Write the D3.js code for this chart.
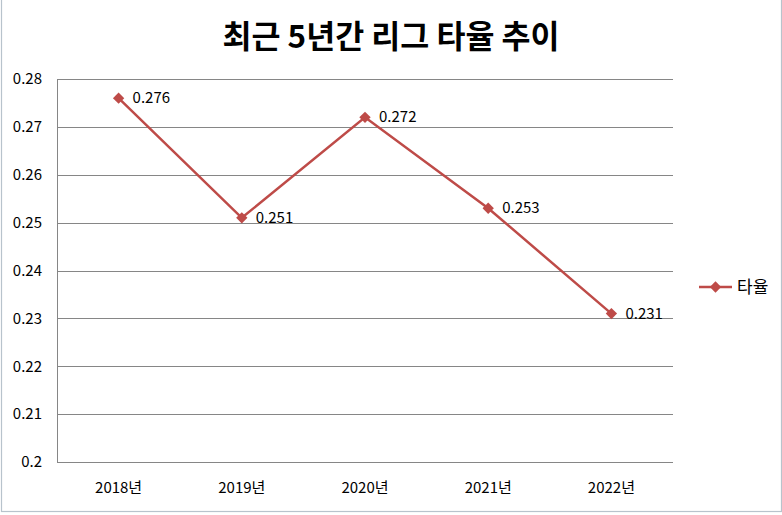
<!DOCTYPE html>
<html><head><meta charset="utf-8">
<script src="https://cdn.jsdelivr.net/npm/d3@7"></script>
<style>body{margin:0;background:#fff;}svg{display:block;font-family:"Noto Sans CJK KR","Noto Sans",sans-serif;}</style>
</head><body>
<script>
const title = "최근 5년간 리그 타율 추이";
const categories = ["2018년","2019년","2020년","2021년","2022년"];
const values = [0.276, 0.251, 0.272, 0.253, 0.231];
const seriesName = "타율";
const yTicks = [0.2,0.21,0.22,0.23,0.24,0.25,0.26,0.27,0.28];

const W=782,H=515;
const svg=d3.select("body").append("svg").attr("width",W).attr("height",H);
svg.append("rect").attr("x",1.5).attr("y",-2).attr("width",W-2).attr("height",H-1.5)
  .attr("fill","#fff").attr("stroke","#b8c3cc").attr("stroke-width",1.2);

const L=57,R=673,T=79,B=462;
const x=d3.scaleBand().domain(categories).range([L,R]);
const y=d3.scaleLinear().domain([0.2,0.28]).range([B,T]);
const color="#BE4B48";

svg.append("text").attr("x",391).attr("y",48).attr("text-anchor","middle")
  .attr("font-size",31.5).attr("font-weight","bold").attr("fill","#000").text(title);

// gridlines
svg.append("g").selectAll("line").data(yTicks).join("line")
  .attr("x1",L).attr("x2",R).attr("y1",d=>Math.round(y(d))+0.5).attr("y2",d=>Math.round(y(d))+0.5)
  .attr("stroke","#868686").attr("stroke-width",1);
svg.append("line").attr("x1",L+0.5).attr("x2",L+0.5).attr("y1",T).attr("y2",B+0.5)
  .attr("stroke","#868686");

// y axis labels
const yAxis=d3.axisLeft(y).tickValues(yTicks).tickSize(0).tickPadding(15).tickFormat(d=>String(+d.toFixed(2)));
const ya=svg.append("g").attr("transform",`translate(${L},0)`).call(yAxis);
ya.select(".domain").remove();
ya.selectAll("text").attr("font-size",15).attr("fill","#000").attr("font-family","Noto Sans CJK KR");

const xAxis=d3.axisBottom(x).tickSize(0).tickPadding(20);
const xa=svg.append("g").attr("transform",`translate(0,${B})`).call(xAxis);
xa.select(".domain").remove();
xa.selectAll("text").attr("font-size",15).attr("fill","#000").attr("font-family","Noto Sans CJK KR");

const cx=d=>x(d)+x.bandwidth()/2;
const line=d3.line().x((d,i)=>cx(categories[i])).y(d=>y(d));
svg.append("path").datum(values).attr("d",line).attr("fill","none").attr("stroke",color).attr("stroke-width",2.5);

const diamond=d3.symbol().type(d3.symbolSquare).size(64);
svg.append("g").selectAll("path").data(values).join("path")
  .attr("d",diamond).attr("transform",(d,i)=>`translate(${cx(categories[i])},${y(d)}) rotate(45)`).attr("fill",color);

svg.append("g").selectAll("text").data(values).join("text")
  .attr("x",(d,i)=>cx(categories[i])+14).attr("y",d=>y(d)+5)
  .attr("font-size",15).attr("fill","#000").text(d=>d.toFixed(3));

// legend
const lg=svg.append("g").attr("transform","translate(699,287)");
lg.append("line").attr("x1",0).attr("x2",33).attr("stroke",color).attr("stroke-width",2.5);
lg.append("path").attr("d",diamond).attr("transform","translate(16.5,0) rotate(45)").attr("fill",color);
lg.append("text").attr("x",38).attr("y",6).attr("font-size",17).attr("fill","#000").text(seriesName);
</script>
</body></html>
